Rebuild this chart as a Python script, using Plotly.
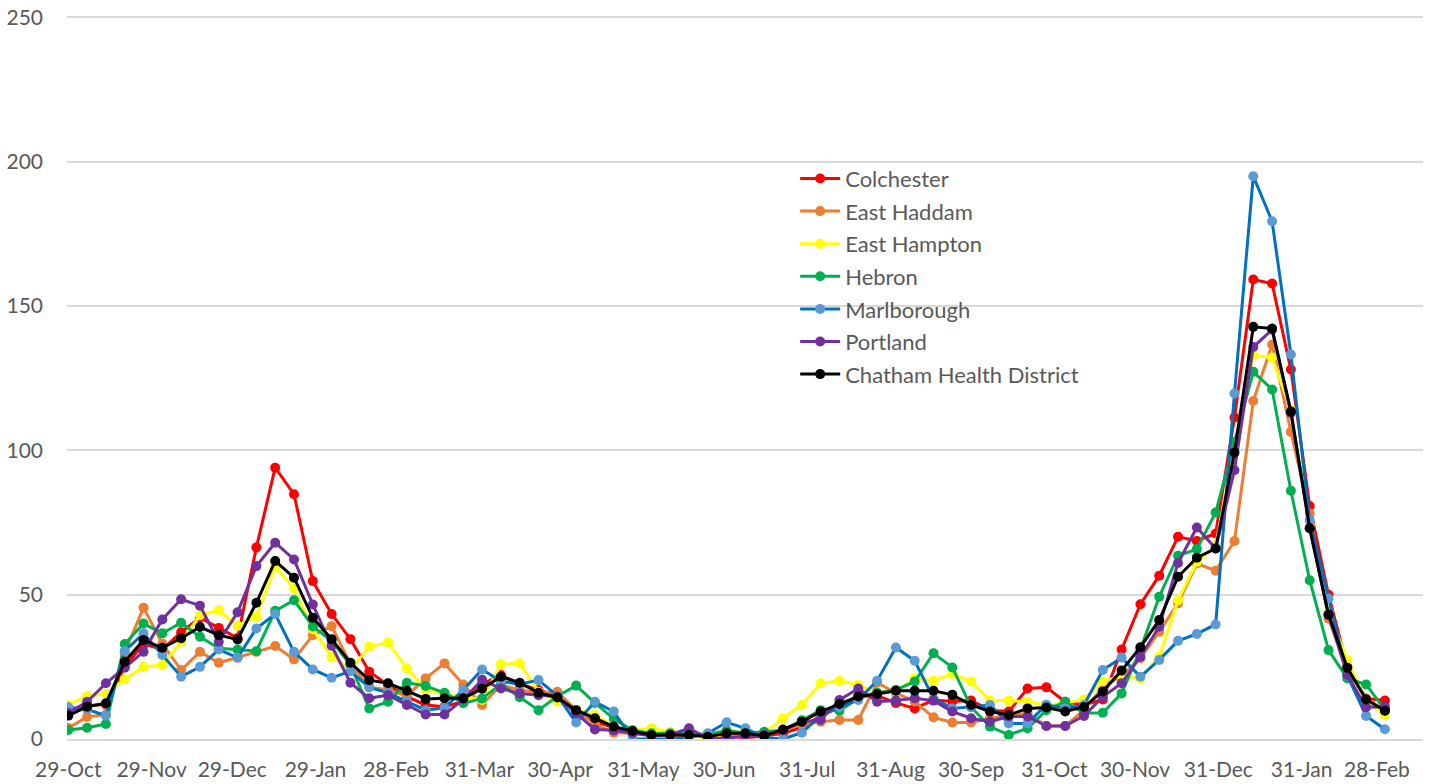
import pandas as pd
import plotly.graph_objects as go

# Weekly reporting dates (Thursdays) starting 29-Oct-2020
weeks = pd.date_range("2020-10-29", periods=71, freq="7D")

colchester = [10, 11.5, 12, 25, 33, 31, 37, 42, 38.5, 35, 66.4, 94, 84.8, 54.7, 43.3, 34.6, 23.3, 18.7, 14.7, 11.8,
              11.2, 13, 19, 22.2, 19, 17, 15, 9, 6, 4, 2, 1.5, 1.5, 1, 1, 1, 0.5, 1, 2, 4,
              8, 11, 15, 15, 12.5, 10.6, 13.5, 13, 13.3, 10, 9.5, 17.5, 17.9, 12.9, 11.8, 13.7, 31, 46.7, 56.6, 70.1,
              68.6, 71.2, 111.4, 159.2, 157.8, 128, 80.7, 50, 25, 14, 13.3]

east_haddam = [3.8, 7.6, 8.5, 30, 45.5, 33, 23.9, 30.2, 26.4, 28.2, 30.2, 32.2, 27.6, 36, 39.1, 26, 18, 17, 15, 21,
               26.2, 18.9, 11.8, 18.7, 17, 16, 16.4, 10, 5, 2.2, 2, 1.5, 1.5, 1.5, 1.5, 1.5, 1, 1.5, 3, 5,
               6, 6.6, 6.6, 19.5, 16, 13, 7.5, 5.7, 5.7, 7.2, 8, 9, 4.5, 4.5, 10, 18, 21.9, 28, 37.2, 47,
               60.8, 58.3, 68.6, 117.1, 136.7, 106.4, 78.1, 41.7, 24, 14, 10]

east_hampton = [11.8, 14.9, 15.6, 20.7, 25, 25.6, 33.7, 42.9, 44.7, 39.2, 42.4, 59.7, 52.2, 38, 28.5, 24, 32, 33.4, 24.5, 17.2,
                15.5, 14.7, 13.5, 25.9, 26.2, 16.4, 12.9, 10, 8.3, 4.5, 3, 3.7, 2.5, 1.4, 0.2, 2, 2.5, 2, 7.2, 11.8,
                19.3, 20.2, 18.7, 16, 16.5, 21, 20.2, 22.6, 19.9, 13.3, 13.3, 12.9, 11.8, 12.4, 13.7, 19.9, 22, 21, 28.5, 48.1,
                61.4, 67.2, 100, 133, 132.2, 114, 74, 44, 27.4, 13, 8.3]

hebron = [3.1, 3.9, 5.2, 32.9, 40, 36.6, 40.3, 35.4, 31.4, 31, 30.5, 44.4, 48.1, 39, 34, 25.6, 10.6, 12.9, 19.5, 18.4,
          16, 12.4, 14, 19, 14.5, 10, 14.8, 18.5, 12.5, 7, 3, 2, 2, 2, 1.5, 3, 2, 2.5, 3, 6.5,
          10, 9.8, 14, 16, 17, 19.9, 29.7, 24.8, 11, 4.3, 1.4, 3.7, 10, 12.9, 8.9, 9.1, 15.8, 31, 49.3, 63.5,
          65.8, 78.5, 103, 127.2, 121.1, 86, 55, 30.8, 21, 18.9, 10]

marlborough = [11, 10.3, 8.1, 30.5, 36.6, 29.1, 21.6, 25, 31, 28.2, 38.3, 43.3, 30.2, 24.1, 21.2, 23.5, 17.9, 16, 13, 10,
               10.8, 17, 24.1, 20, 19, 20.4, 15, 5.7, 12.9, 9.5, 0, 0, 0, 0.5, 2, 5.8, 3.7, 0.5, 0, 2.2,
               8, 11, 13.5, 20.2, 31.7, 27.1, 14, 10.6, 11.1, 11.8, 5.4, 5.4, 11.9, 10.6, 11.8, 23.9, 28.2, 21.6, 27.4, 34,
               36.4, 39.7, 119.7, 195, 179.4, 133.2, 75.8, 48.7, 22, 8, 3.4]

portland = [9, 12.9, 19.3, 24.7, 30.2, 41.4, 48.4, 46.2, 33.7, 43.9, 59.9, 68, 62.2, 46.6, 32.3, 19.5, 14.1, 15.2, 11.8, 8.5,
            8.5, 13.7, 20.5, 17.5, 15.8, 15.2, 14.6, 8.9, 3.3, 3, 2, 1, 1.5, 3.7, 0.2, 0.3, 1, 1.5, 3, 6,
            6.6, 13.5, 17.5, 12.9, 13.3, 14.1, 13.3, 9.5, 7.2, 6, 7.8, 7.8, 4.5, 4.5, 8, 14.6, 19.3, 28.5, 38.9, 61,
            73.3, 66, 93.1, 135.8, 141.8, 113, 73, 43, 22.2, 11, 11.2]

chatham = [8.1, 11.2, 12.4, 26.8, 34.3, 31.6, 34.9, 38.8, 36, 34.5, 47.2, 61.7, 55.9, 42, 34.6, 26.4, 20.4, 19.3, 16.7, 13.9,
           14.1, 14.1, 17.4, 21.6, 19.5, 16, 14.4, 10, 7.2, 4.3, 2.8, 1.4, 1.4, 1.4, 0.8, 2, 2, 1.1, 3.3, 6,
           9.5, 12.1, 14.7, 15.6, 16.7, 16.7, 16.7, 15.3, 11.8, 9.5, 8.3, 10.6, 10.9, 9.5, 11.1, 16.5, 23.7, 31.8, 41.2, 56.2,
           62.8, 66, 99.3, 142.8, 142.2, 113.5, 73, 43.1, 24.7, 13.7, 9.8]

tick_dates = ["2020-10-29", "2020-11-29", "2020-12-29", "2021-01-29", "2021-02-28", "2021-03-31",
              "2021-04-30", "2021-05-31", "2021-06-30", "2021-07-31", "2021-08-31", "2021-09-30",
              "2021-10-31", "2021-11-30", "2021-12-31", "2022-01-31", "2022-02-28"]
tick_labels = ["29-Oct", "29-Nov", "29-Dec", "29-Jan", "28-Feb", "31-Mar", "30-Apr", "31-May", "30-Jun",
               "31-Jul", "31-Aug", "30-Sep", "31-Oct", "30-Nov", "31-Dec", "31-Jan", "28-Feb"]

series = [
    ("Colchester", colchester, "#FF0000", "#FF0000"),
    ("East Haddam", east_haddam, "#ED7D31", "#ED7D31"),
    ("East Hampton", east_hampton, "#FFFF00", "#FFFF00"),
    ("Hebron", hebron, "#00B050", "#00B050"),
    ("Marlborough", marlborough, "#0070C0", "#5B9BD5"),
    ("Portland", portland, "#7030A0", "#7030A0"),
    ("Chatham Health District", chatham, "#000000", "#000000"),
]

FONT = "Lato, Open Sans, sans-serif"
TEXT = "#595959"

fig = go.Figure()
for name, vals, line_c, mark_c in series:
    fig.add_trace(go.Scatter(
        x=weeks, y=vals, name=name, mode="lines+markers",
        legendgroup=name,
        line=dict(color=line_c, width=3),
        marker=dict(color=mark_c, size=10, line=dict(width=0)),
    ))

fig.update_layout(
    autosize=True,
    margin=dict(l=67, r=11, t=16, b=45, autoexpand=False),
    paper_bgcolor="white", plot_bgcolor="white",
    font=dict(family=FONT, size=21, color=TEXT),
    showlegend=True,
    legend=dict(
        x=0.537, y=0.804, xanchor="left", yanchor="top",
        bgcolor="rgba(0,0,0,0)", borderwidth=0,
        font=dict(family=FONT, size=22, color=TEXT),
        tracegroupgap=1, itemwidth=40,
    ),
)

fig.update_xaxes(
    type="date", automargin=False,
    range=["2020-10-28 12:30", "2022-03-17 04:00"],
    tickmode="array", tickvals=tick_dates, ticktext=tick_labels,
    showgrid=False, zeroline=False,
    showline=True, linecolor="#D9D9D9", linewidth=2,
    ticks="", ticklabelstandoff=11,
    tickfont=dict(family=FONT, size=21, color=TEXT),
)
fig.update_yaxes(
    automargin=False,
    range=[0, 250.5], dtick=50, tick0=0,
    showgrid=True, gridcolor="#D9D9D9", gridwidth=2,
    zeroline=False, showline=False, ticks="",
    ticklabelstandoff=23,
    tickfont=dict(family=FONT, size=21, color=TEXT),
)

fig.write_html("out.html", config={"responsive": True})
